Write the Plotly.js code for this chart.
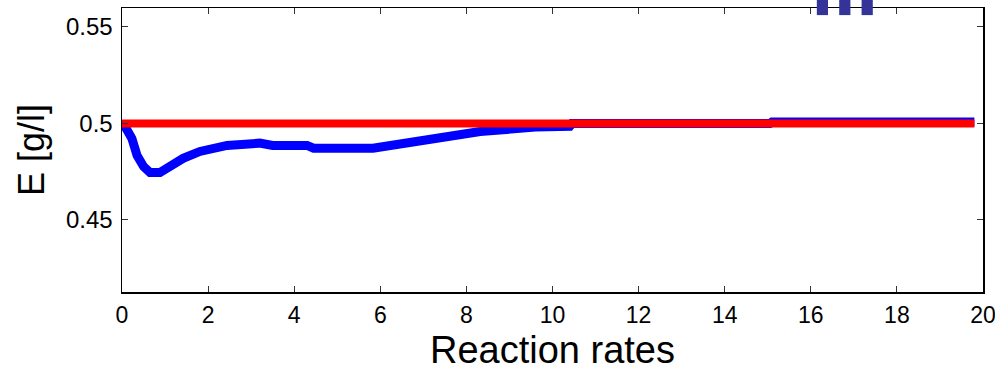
<!DOCTYPE html>
<html>
<head>
<meta charset="utf-8">
<script src="https://cdn.plot.ly/plotly-3.0.1.min.js"></script>
<style>html,body{margin:0;padding:0;background:#fff;}#chart{width:995px;height:371px;}</style>
</head>
<body>
<div id="chart"></div>
<script>
// Simulated E concentration (blue) vs reaction rates
const simX = [0, 0.07, 0.23, 0.35, 0.5, 0.65, 0.88, 1.11, 1.42, 1.81, 2.44, 3.2, 3.5, 4.3, 4.45, 5.83, 6.0, 6.3, 6.76, 7.55, 8.32, 9.1, 9.6, 10.4, 10.45, 15.05, 15.1, 19.8];
const simY = [0.5, 0.4985, 0.4922, 0.4834, 0.4777, 0.4746, 0.4746, 0.478, 0.4819, 0.4855, 0.4886, 0.4898, 0.4886, 0.4886, 0.4872, 0.4872, 0.4878, 0.4892, 0.491, 0.4938, 0.4958, 0.4972, 0.4982, 0.4985, 0.5, 0.5, 0.5008, 0.5008];
// Reference / setpoint (red)
const refX = [0, 19.8];
const refY = [0.5, 0.5];
// Ticks
const xTickVals = [0, 2, 4, 6, 8, 10, 12, 14, 16, 18, 20];
const yTickVals = [0.45, 0.5, 0.55];
const yTickText = ["0.45", "0.5", "0.55"];
const yTitle = 'E [g/l]';
const xTitle = 'Reaction rates';

const traces = [
  {x: simX, y: simY, mode: 'lines', line: {color: '#0000ff', width: 9, shape: 'linear'}, hoverinfo: 'skip'},
  {x: refX, y: refY, mode: 'lines', line: {color: '#ff0000', width: 8}, hoverinfo: 'skip'}
];

const axCommon = {
  showline: true, linecolor: '#000', linewidth: 1.5, mirror: 'ticks',
  ticks: 'inside', ticklen: 6, tickwidth: 1, tickcolor: '#333',
  showgrid: false, zeroline: false, automargin: false,
  ticklabeloverflow: 'allow'
};

const layout = {
  width: 995, height: 371,
  margin: {l: 122, r: 12, t: 8, b: 79},
  paper_bgcolor: '#fff', plot_bgcolor: '#fff',
  showlegend: false,
  xaxis: Object.assign({}, axCommon, {
    range: [0, 20], tickvals: xTickVals, ticklabelstandoff: 2,
    tickfont: {family: 'Liberation Sans, Arial, sans-serif', size: 23, color: '#000'},
    title: {text: xTitle, standoff: 20, font: {family: 'Liberation Sans, Arial, sans-serif', size: 38, color: '#000'}}
  }),
  yaxis: Object.assign({}, axCommon, {
    range: [0.4127, 0.5598], tickvals: yTickVals, ticktext: yTickText, ticklabelstandoff: 3,
    tickfont: {family: 'Liberation Sans, Arial, sans-serif', size: 24, color: '#000'}
  }),
  annotations: [
    {text: yTitle, xref: 'paper', yref: 'paper', x: -0.1057, y: 0.5, xanchor: 'center', yanchor: 'middle',
     textangle: -90, showarrow: false, font: {family: 'Liberation Sans, Arial, sans-serif', size: 36, color: '#000'}}
  ],
  shapes: [
    {type: 'rect', xref: 'paper', yref: 'paper', x0: 0.807, x1: 0.820, y0: 0.975, y1: 1.03, fillcolor: '#333399', line: {width: 0}, layer: 'above'},
    {type: 'rect', xref: 'paper', yref: 'paper', x0: 0.833, x1: 0.846, y0: 0.975, y1: 1.03, fillcolor: '#333399', line: {width: 0}, layer: 'above'},
    {type: 'rect', xref: 'paper', yref: 'paper', x0: 0.859, x1: 0.872, y0: 0.975, y1: 1.03, fillcolor: '#333399', line: {width: 0}, layer: 'above'}
  ]
};

Plotly.newPlot('chart', traces, layout, {displayModeBar: false, staticPlot: true});
</script>
</body>
</html>
